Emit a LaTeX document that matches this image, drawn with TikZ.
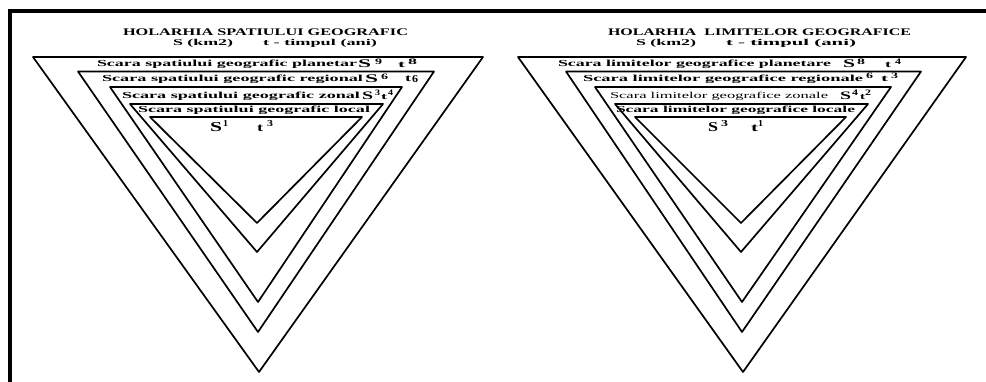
\documentclass[tikz,border=0pt]{standalone}
\usepackage{fontspec}
\setmainfont{Liberation Serif}
\usepackage{graphicx}
\newcommand\fitbox[3]{\resizebox{#1pt}{#2pt}{#3}}
\begin{document}
\begin{tikzpicture}[x=1pt,y=-1pt,
  tri/.style={line width=1.7pt,line join=round},
  frame/.style={line width=4pt},
  lab/.style={anchor=base west,inner sep=0pt,outer sep=0pt,font=\bfseries},
  thinlab/.style={anchor=base west,inner sep=0pt,outer sep=0pt,font=\mdseries}]
\useasboundingbox (0,0) rectangle (986,382);
\fill[white] (0,0) rectangle (986,382);
% frame
\coordinate (fa) at (9.5,382);
\coordinate (fb) at (9.5,11.5);
\coordinate (fc) at (986,11.5);
\draw[frame] (fa) -- (fb) -- (fc);
% left triangles
\draw[tri] (33,57) -- (483,57) -- (259,372) -- cycle;
\draw[tri] (78,71.5) -- (434,71.5) -- (258,332) -- cycle;
\draw[tri] (110,87) -- (402,87) -- (258,302) -- cycle;
\draw[tri] (130,104) -- (383,104) -- (257,252) -- cycle;
\draw[tri] (150,117) -- (362,117) -- (257,223) -- cycle;
% right triangles
\draw[tri] (518,57) -- (966,57) -- (743,372) -- cycle;
\draw[tri] (566,71.5) -- (921,71.5) -- (742,332) -- cycle;
\draw[tri] (595,87) -- (891,87) -- (742,302) -- cycle;
\draw[tri] (615,104) -- (868,104) -- (741,252) -- cycle;
\draw[tri] (635,117) -- (846,117) -- (741,223) -- cycle;
% left texts
\node[lab] (lt1) at (123,36) {\fitbox{285}{6.7}{HOLARHIA SPATIULUI GEOGRAFIC}};
\node[lab] (lt2) at (173,45.5) {\fitbox{60}{6.2}{S (km2)}};
\node[lab] (lt3) at (263,45.5) {\fitbox{114}{6.2}{t - timpul (ani)}};
\node[lab] (la1) at (97,66.5) {\fitbox{260}{6.5}{Scara spatiului geografic planetar}};
\node[lab] (la2) at (358,68) {\fitbox{13}{7.7}{S}};
\node[lab] (la3) at (375,64.8) {\fitbox{7}{5.5}{9}};
\node[lab] (la4) at (398,67.5) {\fitbox{7}{5.2}{t}};
\node[lab] (la5) at (408,65) {\fitbox{9}{5.5}{8}};
\node[lab] (lb1) at (102,81.5) {\fitbox{261}{6.5}{Scara spatiului geografic regional}};
\node[lab] (lb2) at (365,83) {\fitbox{13}{7.7}{S}};
\node[lab] (lb3) at (381,79.5) {\fitbox{7}{5.5}{6}};
\node[lab] (lb4) at (405,82) {\fitbox{6}{5.5}{t}};
\node[lab] (lb5) at (412,82.5) {\fitbox{6}{7}{6}};
\node[lab] (lc1) at (122,98.5) {\fitbox{238}{6.5}{Scara spatiului geografic zonal}};
\node[lab] (lc2) at (362,99.8) {\fitbox{11}{7.5}{S}};
\node[lab] (lc3) at (375,95.5) {\fitbox{5}{5.5}{3}};
\node[lab] (lc4) at (381,99.5) {\fitbox{6}{5}{t}};
\node[lab] (lc5) at (388,95.5) {\fitbox{5}{5.5}{4}};
\node[lab] (ld1) at (138,113) {\fitbox{232}{6.5}{Scara spatiului geografic local}};
\node[lab] (le1) at (210,131.7) {\fitbox{12}{9}{S}};
\node[lab] (le2) at (223,126.5) {\fitbox{5}{6}{1}};
\node[lab] (le3) at (257,131.7) {\fitbox{6}{6.5}{t}};
\node[lab] (le4) at (267,126.5) {\fitbox{6}{6}{3}};
% right texts
\node[lab] (rt1) at (608,36) {\fitbox{303}{6.7}{HOLARHIA\ \ LIMITELOR GEOGRAFICE}};
\node[lab] (rt2) at (636,45.5) {\fitbox{60}{6.2}{S (km2)}};
\node[lab] (rt3) at (726,45.5) {\fitbox{130}{6.2}{t - timpul (ani)}};
\node[lab] (ra1) at (558,66.5) {\fitbox{273}{6.5}{Scara limitelor geografice planetare}};
\node[lab] (ra2) at (843,68) {\fitbox{12}{7.7}{S}};
\node[lab] (ra3) at (857,64.5) {\fitbox{8}{5.5}{8}};
\node[lab] (ra4) at (885,67.5) {\fitbox{6}{5.2}{t}};
\node[lab] (ra5) at (895,64.5) {\fitbox{6}{5.5}{4}};
\node[lab] (rb1) at (583,81.5) {\fitbox{280}{6.5}{Scara limitelor geografice regionale}};
\node[lab] (rb2) at (866,79) {\fitbox{7}{5.5}{6}};
\node[lab] (rb3) at (881,82) {\fitbox{7}{5.2}{t}};
\node[lab] (rb4) at (891,79) {\fitbox{7}{5.5}{3}};
\node[thinlab] (rc1) at (610,98.5) {\fitbox{218}{6.3}{Scara limitelor geografice zonale}};
\node[lab] (rc2) at (840,99.8) {\fitbox{11}{7.5}{S}};
\node[lab] (rc3) at (852,95.5) {\fitbox{6}{5.5}{4}};
\node[lab] (rc4) at (860,99.5) {\fitbox{5}{5}{t}};
\node[lab] (rc5) at (865,95.5) {\fitbox{6}{5.5}{2}};
\node[lab] (rd1) at (616,113) {\fitbox{239}{6.5}{Scara limitelor geografice locale}};
\node[lab] (re1) at (708,131.7) {\fitbox{10}{9}{S}};
\node[lab] (re2) at (721,126.5) {\fitbox{7}{6}{3}};
\node[lab] (re3) at (751,131.7) {\fitbox{7}{6.5}{t}};
\node[lab] (re4) at (758,126.5) {\fitbox{5}{6}{1}};
\end{tikzpicture}
\end{document}
